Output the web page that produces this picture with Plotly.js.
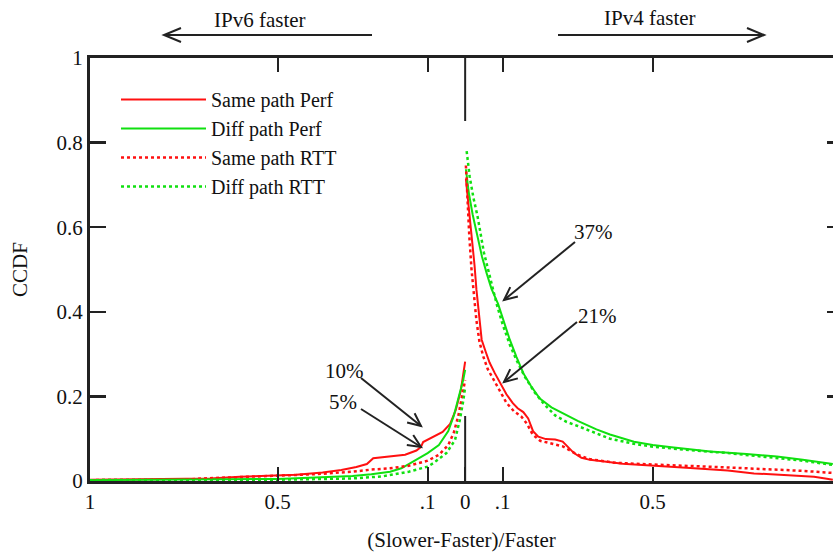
<!DOCTYPE html>
<html>
<head>
<meta charset="utf-8">
<script src="https://cdn.plot.ly/plotly-3.0.1.min.js"></script>
<style>html,body{margin:0;padding:0;background:#fff;}#chart{width:833px;height:554px;}</style>
</head>
<body>
<div id="chart"></div>
<script>
// ---------- data (x: signed (Slower-Faster)/Faster, negative = IPv6 faster) ----------
const seriesNames = ["Same path Perf", "Diff path Perf", "Same path RTT", "Diff path RTT"];

const samePerfLeftX  = [-1, -0.75, -0.68, -0.6, -0.53, -0.45, -0.38, -0.33, -0.29, -0.262, -0.245, -0.2, -0.16, -0.13, -0.118, -0.112, -0.09, -0.06, -0.04, -0.025, -0.012, -0.004, 0];
const samePerfLeftY  = [0.003, 0.004, 0.006, 0.010, 0.013, 0.015, 0.020, 0.026, 0.033, 0.040, 0.054, 0.058, 0.062, 0.072, 0.080, 0.092, 0.103, 0.116, 0.135, 0.168, 0.212, 0.255, 0.282];
const samePerfRightX = [0.002, 0.008, 0.013, 0.019, 0.025, 0.030, 0.037, 0.044, 0.055, 0.065, 0.079, 0.093, 0.11, 0.127, 0.14, 0.155, 0.168, 0.181, 0.195, 0.215, 0.24, 0.26, 0.275, 0.29, 0.31, 0.333, 0.42, 0.5, 0.6, 0.7, 0.77, 0.85, 0.93, 0.96, 0.98];
const samePerfRightY = [0.714, 0.66, 0.62, 0.571, 0.51, 0.453, 0.39, 0.334, 0.305, 0.280, 0.255, 0.231, 0.205, 0.184, 0.172, 0.163, 0.148, 0.118, 0.105, 0.099, 0.098, 0.093, 0.080, 0.066, 0.055, 0.050, 0.041, 0.037, 0.031, 0.025, 0.018, 0.014, 0.010, 0.006, 0.003];

const diffPerfLeftX  = [-1, -0.6, -0.5, -0.4, -0.3, -0.25, -0.2, -0.17, -0.14, -0.12, -0.1, -0.07, -0.045, -0.03, -0.015, -0.005, 0];
const diffPerfLeftY  = [0.002, 0.003, 0.005, 0.008, 0.012, 0.016, 0.022, 0.030, 0.045, 0.055, 0.066, 0.085, 0.118, 0.155, 0.205, 0.240, 0.263];
const diffPerfRightX = [0.002, 0.01, 0.02, 0.035, 0.045, 0.057, 0.07, 0.088, 0.10, 0.119, 0.137, 0.155, 0.175, 0.199, 0.23, 0.27, 0.3, 0.35, 0.386, 0.45, 0.5, 0.55, 0.653, 0.75, 0.831, 0.9, 0.98];
const diffPerfRightY = [0.737, 0.68, 0.63, 0.571, 0.53, 0.492, 0.455, 0.418, 0.385, 0.334, 0.293, 0.255, 0.225, 0.195, 0.174, 0.156, 0.142, 0.122, 0.110, 0.093, 0.085, 0.080, 0.070, 0.064, 0.058, 0.050, 0.040];

const sameRttLeftX   = [-1, -0.75, -0.7, -0.6, -0.5, -0.4, -0.3, -0.25, -0.2, -0.15, -0.1, -0.07, -0.045, -0.03, -0.018, -0.008, 0];
const sameRttLeftY   = [0.002, 0.003, 0.006, 0.009, 0.012, 0.016, 0.022, 0.027, 0.030, 0.036, 0.048, 0.062, 0.085, 0.115, 0.155, 0.200, 0.239];
const sameRttRightX  = [0.002, 0.006, 0.011, 0.017, 0.024, 0.030, 0.038, 0.048, 0.06, 0.075, 0.09, 0.11, 0.13, 0.15, 0.165, 0.18, 0.2, 0.23, 0.26, 0.28, 0.3, 0.33, 0.4, 0.5, 0.6, 0.7, 0.8, 0.9, 0.98];
const sameRttRightY  = [0.746, 0.66, 0.58, 0.50, 0.43, 0.38, 0.33, 0.295, 0.265, 0.240, 0.215, 0.185, 0.165, 0.152, 0.135, 0.110, 0.095, 0.088, 0.082, 0.072, 0.062, 0.052, 0.043, 0.039, 0.036, 0.032, 0.028, 0.024, 0.019];

const diffRttLeftX   = [-1, -0.5, -0.3, -0.22, -0.15, -0.1, -0.085, -0.05, -0.027, -0.014, -0.005, 0];
const diffRttLeftY   = [0.002, 0.003, 0.006, 0.011, 0.022, 0.034, 0.042, 0.066, 0.097, 0.145, 0.190, 0.222];
const diffRttRightX  = [0.004, 0.012, 0.022, 0.033, 0.05, 0.069, 0.085, 0.10, 0.12, 0.14, 0.16, 0.185, 0.21, 0.24, 0.27, 0.3, 0.35, 0.386, 0.45, 0.5, 0.6, 0.7, 0.8, 0.9, 0.98];
const diffRttRightY  = [0.780, 0.72, 0.67, 0.626, 0.54, 0.468, 0.415, 0.37, 0.32, 0.28, 0.245, 0.210, 0.182, 0.155, 0.140, 0.130, 0.113, 0.100, 0.088, 0.081, 0.073, 0.066, 0.057, 0.048, 0.038];

const xTickVals = [-1, -0.5, -0.1, 0, 0.1, 0.5];
const xTickText = ["1", "0.5", ".1", "0", ".1", "0.5"];
const yTickVals = [0, 0.2, 0.4, 0.6, 0.8, 1];
const yTickText = ["0", "0.2", "0.4", "0.6", "0.8", "1"];

// ---------- styling ----------
const FONT = "Liberation Serif, Times New Roman, serif";
const FS = 21;
const RED = "#ff1010", GREEN = "#10e010", INK = "#222";
const L = 90, T = 58, W = 743, H = 423;
const pxX = x => (x - L) / W;
const pxY = y => (T + H - y) / H;

function join(ax, ay, bx, by) { return { x: ax.concat([null], bx), y: ay.concat([null], by) }; }

const specs = [
  [samePerfLeftX, samePerfLeftY, samePerfRightX, samePerfRightY, RED, "solid", 2],
  [diffPerfLeftX, diffPerfLeftY, diffPerfRightX, diffPerfRightY, GREEN, "solid", 2],
  [sameRttLeftX, sameRttLeftY, sameRttRightX, sameRttRightY, RED, "3px,3px", 2.5],
  [diffRttLeftX, diffRttLeftY, diffRttRightX, diffRttRightY, GREEN, "3px,3px", 2.5]
];
const traces = specs.map((s, i) => {
  const d = join(s[0], s[1], s[2], s[3]);
  return { type: "scatter", mode: "lines", name: seriesNames[i], x: d.x, y: d.y,
    line: { color: s[4], dash: s[5], width: s[6] }, connectgaps: false, hoverinfo: "skip" };
});
// helpers so that the secondary (top / right) axes get drawn
traces.push({ type: "scatter", x: [], y: [], xaxis: "x2", yaxis: "y", showlegend: false, hoverinfo: "skip" });
traces.push({ type: "scatter", x: [], y: [], xaxis: "x", yaxis: "y2", showlegend: false, hoverinfo: "skip" });

// arrows (decoration) built from pixel positions
const shapes = [];
function arrow(x0, y0, x1, y1, hl, hw) {
  shapes.push({ type: "line", xref: "paper", yref: "paper", x0: pxX(x0), y0: pxY(y0), x1: pxX(x1), y1: pxY(y1),
    line: { color: INK, width: 2 } });
  const len = Math.hypot(x1 - x0, y1 - y0), ux = (x1 - x0) / len, uy = (y1 - y0) / len;
  const nx = -uy, ny = ux;
  const ax = x1 - ux * hl + nx * hw, ay = y1 - uy * hl + ny * hw;
  const bx = x1 - ux * hl - nx * hw, by = y1 - uy * hl - ny * hw;
  shapes.push({ type: "path", xref: "paper", yref: "paper",
    path: `M${pxX(ax)},${pxY(ay)} L${pxX(x1)},${pxY(y1)} L${pxX(bx)},${pxY(by)}`,
    line: { color: INK, width: 2 } });
}
arrow(372, 35, 164, 35, 17, 7);
arrow(558, 35, 764, 35, 17, 7);
arrow(575, 242, 504, 300, 13, 6);
arrow(577, 322, 504, 382, 13, 6);
arrow(361, 378, 421, 426, 13, 6);
arrow(361, 409, 421, 447, 13, 6);
// long centre ticks at 0
shapes.push({ type: "line", xref: "x", yref: "paper", x0: 0, x1: 0, y0: 0, y1: pxY(416), line: { color: INK, width: 2 } });
shapes.push({ type: "line", xref: "x", yref: "paper", x0: 0, x1: 0, y0: 1, y1: pxY(121), line: { color: INK, width: 2 } });

function label(text, x, y) {
  return { text: text, xref: "paper", yref: "paper", x: pxX(x), y: pxY(y), xanchor: "center", yanchor: "middle",
    showarrow: false, font: { family: FONT, size: FS, color: "#111" } };
}
const annotations = [
  label("IPv6 faster", 260, 20),
  label("IPv4 faster", 650, 18),
  label("37%", 593, 232),
  label("21%", 597, 316),
  label("10%", 344, 371),
  label("5%", 343, 402)
];

const xRange = [-1, (833 - 465.3) / 375];
const layout = {
  width: 833, height: 554,
  margin: { l: L, r: 0, t: T, b: 554 - T - H, pad: 0 },
  paper_bgcolor: "#fff", plot_bgcolor: "#fff",
  font: { family: FONT, size: FS, color: "#111" },
  showlegend: true,
  legend: { x: pxX(116), y: pxY(80), xanchor: "left", yanchor: "top", bgcolor: "rgba(0,0,0,0)",
    font: { family: FONT, size: 20, color: "#111" }, itemwidth: 85, tracegroupgap: 0, traceorder: "normal" },
  xaxis: { range: xRange, tickmode: "array", tickvals: xTickVals, ticktext: xTickText,
    ticks: "inside", ticklen: 14, tickwidth: 2, tickcolor: INK, showline: true, linewidth: 3, linecolor: INK,
    showgrid: false, zeroline: false, tickfont: { family: FONT, size: FS, color: "#111" },
    title: { text: "(Slower-Faster)/Faster", font: { family: FONT, size: FS, color: "#111" }, standoff: 20 } },
  xaxis2: { overlaying: "x", side: "top", anchor: "y", matches: "x", range: xRange, tickmode: "array",
    tickvals: [-0.5, -0.1, 0.1, 0.5], ticks: "inside", ticklen: 14, tickwidth: 2, tickcolor: INK,
    showticklabels: false, showline: true, linewidth: 3, linecolor: INK, showgrid: false, zeroline: false },
  yaxis: { range: [0, 1], tickmode: "array", tickvals: yTickVals, ticktext: yTickText,
    ticks: "inside", ticklen: 16, tickwidth: 2.5, tickcolor: INK, showline: true, linewidth: 3, linecolor: INK,
    showgrid: false, zeroline: false, tickfont: { family: FONT, size: FS, color: "#111" },
    title: { text: "CCDF", font: { family: FONT, size: FS, color: "#111" }, standoff: 24 } },
  yaxis2: { overlaying: "y", side: "right", anchor: "x", range: [0, 1], tickmode: "array",
    tickvals: [0.2, 0.4, 0.6, 0.8], ticks: "inside", ticklen: 6, tickwidth: 2.5, tickcolor: INK,
    showticklabels: false, showline: false, showgrid: false, zeroline: false },
  shapes: shapes,
  annotations: annotations
};

Plotly.newPlot("chart", traces, layout, { staticPlot: true, displayModeBar: false });
</script>
</body>
</html>
